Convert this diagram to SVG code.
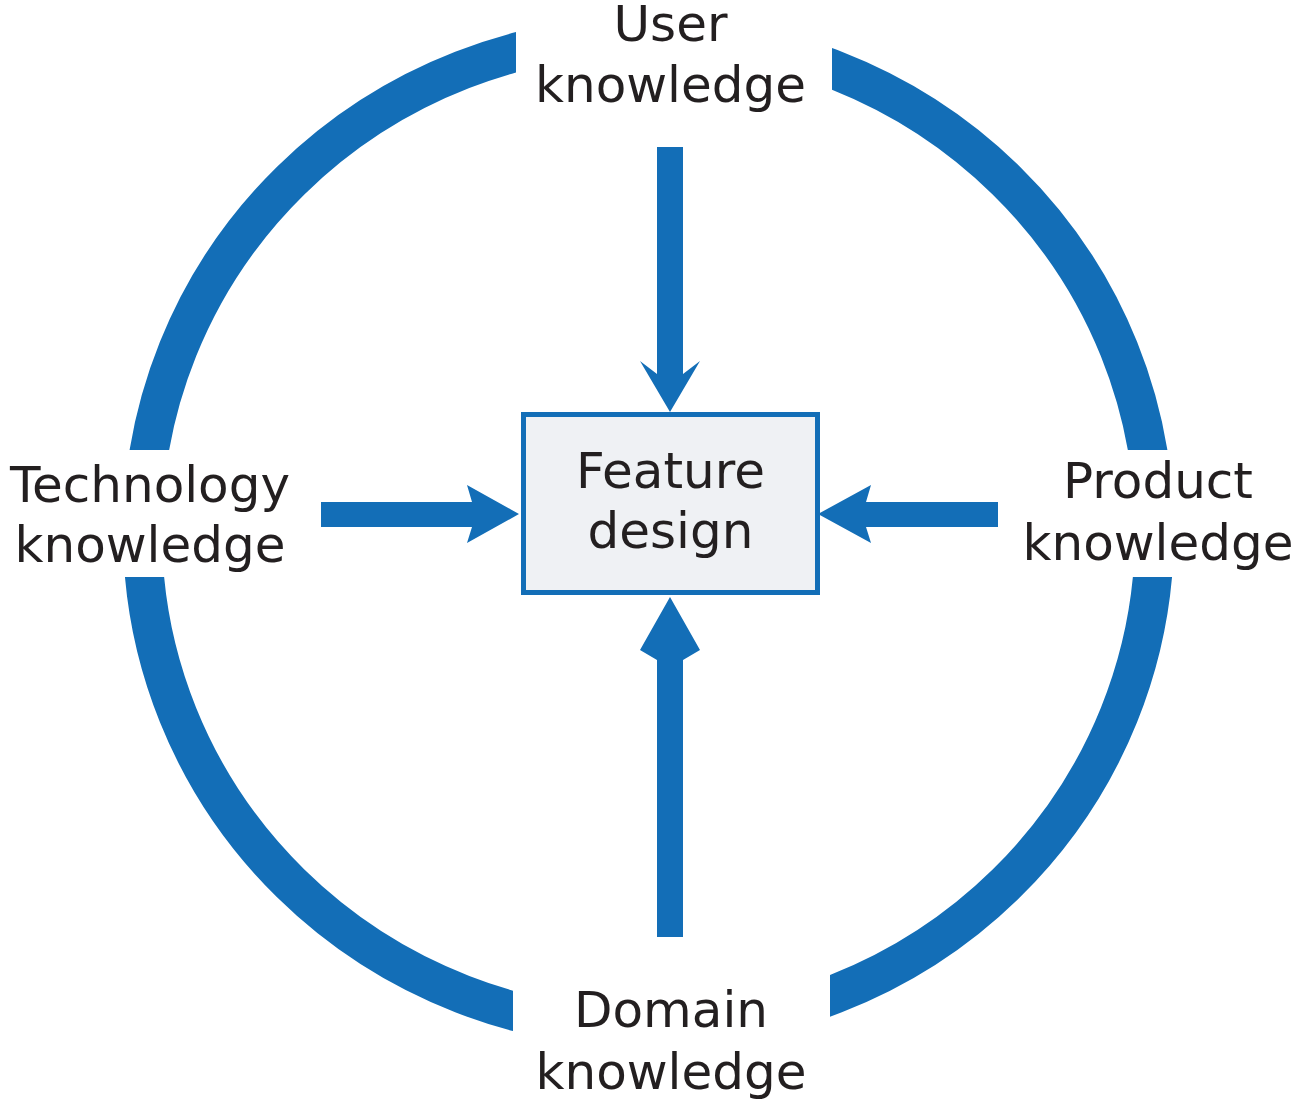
<svg xmlns="http://www.w3.org/2000/svg" width="1299" height="1100" viewBox="0 0 1299 1100">
<style>
.lbl{font-family:"DejaVu Sans","Liberation Sans",sans-serif;font-size:50px;fill:#231f20;text-anchor:middle}
.ring{fill:none;stroke:#136eb7;stroke-width:39}
.arrow{fill:#136eb7}
.box{fill:#eff1f4;stroke:#136eb7;stroke-width:5}
</style>
<defs>
<clipPath id="ringClip">
<rect x="0" y="0" width="516" height="450"/>
<rect x="832" y="0" width="467" height="450"/>
<rect x="0" y="577" width="513" height="523"/>
<rect x="830" y="577" width="469" height="523"/>
</clipPath>
</defs>
<g id="cycle">
<ellipse class="ring" cx="648.5" cy="532" rx="506" ry="497" clip-path="url(#ringClip)"/>
</g>
<g id="connectors">
<polygon class="arrow" points="657,147 683,147 683,374 700,361 670,412 640,361 657,374"/>
<polygon class="arrow" points="657,937 683,937 683,660 700,650 670,597 640,650 657,660"/>
<polygon class="arrow" points="321,502 472,502 467,485 519,514 467,543 472,527 321,527"/>
<polygon class="arrow" points="998,502 866,502 871,485 818,514 871,543 866,527 998,527"/>
</g>
<g id="feature-design">
<rect class="box" x="523.5" y="414.5" width="294" height="178"/>
<text class="lbl" x="670.5" y="488">Feature</text>
<text class="lbl" x="670.5" y="548">design</text>
</g>
<g id="user-knowledge">
<text class="lbl" x="670.5" y="41">User</text>
<text class="lbl" x="670.5" y="102">knowledge</text>
</g>
<g id="technology-knowledge">
<text class="lbl" x="150" y="502">Technology</text>
<text class="lbl" x="150" y="562">knowledge</text>
</g>
<g id="product-knowledge">
<text class="lbl" x="1158" y="498">Product</text>
<text class="lbl" x="1158" y="560">knowledge</text>
</g>
<g id="domain-knowledge">
<text class="lbl" x="671" y="1027">Domain</text>
<text class="lbl" x="671" y="1089">knowledge</text>
</g>
</svg>
